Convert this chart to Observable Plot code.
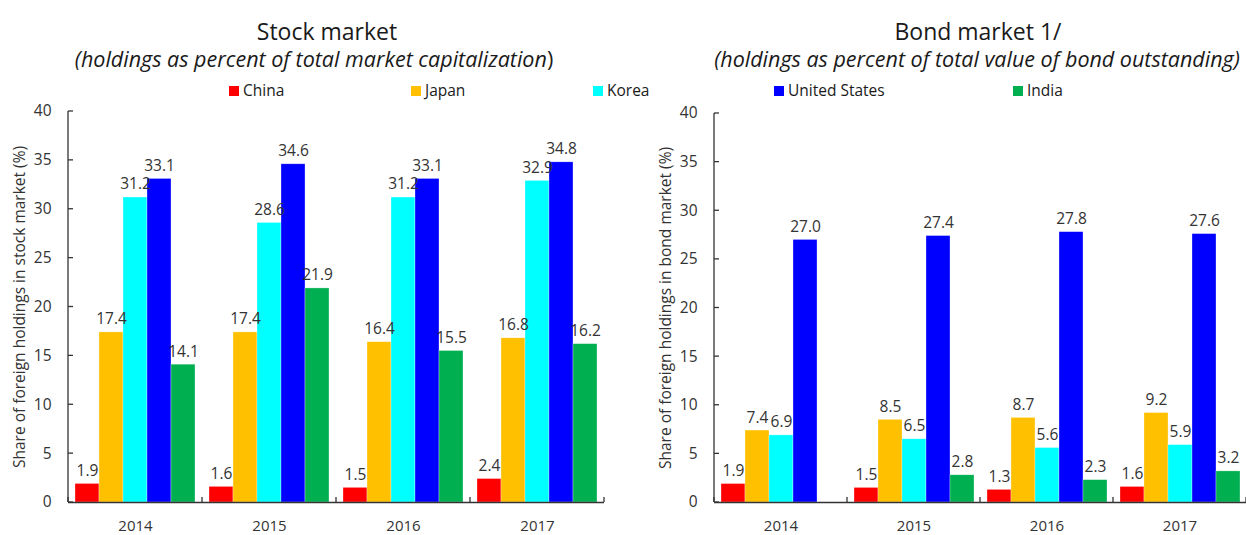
<!DOCTYPE html>
<html><head><meta charset="utf-8">
<script src="https://cdn.jsdelivr.net/npm/d3@7"></script>
<script src="https://cdn.jsdelivr.net/npm/@observablehq/plot@0.6"></script>
<style>
body{margin:0;background:#fff;font-family:"Open Sans",sans-serif;}
#wrap{position:relative;width:1246px;height:535px;overflow:hidden;background:#fff;}
.t{position:absolute;width:800px;text-align:center;color:#1a1a1a;white-space:nowrap;line-height:1;}
.t1{font-size:23px;top:20px;}
.t2{font-size:21.5px;font-style:italic;top:48px;}
.leg{position:absolute;top:80px;font-size:15.5px;color:#1a1a1a;white-space:nowrap;line-height:20px;}
.leg i{display:inline-block;width:10px;height:10px;margin-right:4px;vertical-align:0px;}
.panel{position:absolute;top:95px;}
</style></head><body>
<div id="wrap"></div>
<script>
const years = ["2014","2015","2016","2017"];
const countries = ["China","Japan","Korea","United States","India"];
const colors = ["#FF0000","#FFC000","#00FFFF","#0000FF","#00B050"];
const yTicks = [0,5,10,15,20,25,30,35,40];

const stockChina = [1.9,1.6,1.5,2.4];
const stockJapan = [17.4,17.4,16.4,16.8];
const stockKorea = [31.2,28.6,31.2,32.9];
const stockUS    = [33.1,34.6,33.1,34.8];
const stockIndia = [14.1,21.9,15.5,16.2];

const bondChina = [1.9,1.5,1.3,1.6];
const bondJapan = [7.4,8.5,8.7,9.2];
const bondKorea = [6.9,6.5,5.6,5.9];
const bondUS    = [27.0,27.4,27.8,27.6];
const bondIndia = [null,2.8,2.3,3.2];

const titles = [
  {title:"Stock market", sub:'(holdings as percent of total market capitalization<span style="font-style:normal">)</span>', cx:327, scx:314},
  {title:"Bond market 1/", sub:"(holdings as percent of total value of bond outstanding)", cx:978, scx:977}
];

function rows(series){
  const out=[];
  countries.forEach((c,i)=>years.forEach((y,j)=>{
    const v=series[i][j];
    if(v!=null) out.push({country:c,year:y,value:v});
  }));
  return out;
}

function panel(data,label,width,marginLeft,marginRight,marginTop){
  const plot = Plot.plot({
    width, height:440, marginTop, marginBottom:33, marginLeft, marginRight,
    style:{fontFamily:'"Open Sans",sans-serif',fontSize:"15px",color:"#333",background:"transparent"},
    fx:{domain:years,padding:0,label:null,axis:null},
    x:{domain:countries,axis:null,paddingInner:0,paddingOuter:0.2},
    y:{domain:[0,40],ticks:yTicks,axis:null},
    color:{domain:countries,range:colors},
    marks:[
      Plot.barY(data,{fx:"year",x:"country",y:"value",fill:"country",stroke:"#fff",strokeOpacity:0.5,strokeWidth:0.6}),
      Plot.text(data,{fx:"year",x:"country",y:"value",text:d=>d.value.toFixed(1),dy:-13,fill:"#333",fontSize:15.5}),
      Plot.ruleY([0],{stroke:"#333",strokeWidth:1.3}),
      Plot.axisY({ticks:yTicks,tickSize:0,tickPadding:17,label,labelAnchor:"center",labelArrow:"none",labelOffset:55,fill:"#333",fontSize:15.5}),
      Plot.axisFx({anchor:"bottom",tickSize:0,tickPadding:18,label:null,fill:"#333",fontSize:15})
    ]
  });
  // axis line and inward ticks drawn from the library's scales
  const fx = plot.scale("fx"), y = plot.scale("y");
  const svg = d3.select(plot);
  const x0 = fx.apply(years[0]);
  const g = svg.append("g").attr("stroke","#333").attr("stroke-width",1.3);
  g.append("line").attr("x1",x0).attr("x2",x0).attr("y1",y.apply(0)).attr("y2",y.apply(40));
  yTicks.forEach(t=>g.append("line").attr("x1",x0).attr("x2",x0+5).attr("y1",y.apply(t)).attr("y2",y.apply(t)));
  const edges = years.map(v=>fx.apply(v)).concat([fx.apply(years[years.length-1])+fx.step]);
  edges.forEach(e=>g.append("line").attr("x1",e).attr("x2",e).attr("y1",y.apply(0)).attr("y2",y.apply(0)-5));
  return plot;
}

const wrap = document.getElementById("wrap");
titles.forEach(t=>{
  const a=document.createElement("div"); a.className="t t1"; a.style.left=(t.cx-400)+"px"; a.textContent=t.title; wrap.appendChild(a);
  const b=document.createElement("div"); b.className="t t2"; b.style.left=(t.scx-400)+"px"; b.innerHTML=t.sub; wrap.appendChild(b);
});
const legX=[229,411,593,774,1013];
countries.forEach((c,i)=>{
  const d=document.createElement("div"); d.className="leg"; d.style.left=legX[i]+"px";
  d.innerHTML='<i style="background:'+colors[i]+'"></i>'+c; wrap.appendChild(d);
});
const p1 = panel(rows([stockChina,stockJapan,stockKorea,stockUS,stockIndia]),"Share of foreign holdings in stock market (%)",620,68,16,16);
p1.classList.add("panel"); p1.style.left="0px"; wrap.appendChild(p1);
const p2 = panel(rows([bondChina,bondJapan,bondKorea,bondUS,bondIndia]),"Share of foreign holdings in bond market (%)",626,93,0,18);
p2.classList.add("panel"); p2.style.left="620px"; wrap.appendChild(p2);
</script></body></html>
